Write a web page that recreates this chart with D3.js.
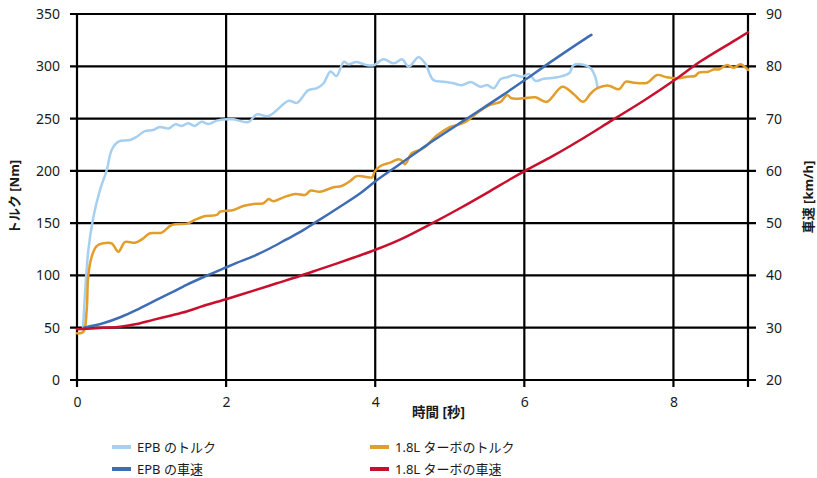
<!DOCTYPE html>
<html>
<head>
<meta charset="utf-8">
<script src="https://cdn.jsdelivr.net/npm/d3@7"></script>
<style>
  body { margin: 0; background: #fff; }
  svg text { font-family: "Noto Sans", "Noto Sans CJK JP", sans-serif; fill: #1a1a1a; }
</style>
</head>
<body>
<div id="chart"></div>
<script>
// Time [s] / value pairs
const epbTorqueT = [0.08, 0.152, 0.22, 0.31, 0.40, 0.465, 0.555, 0.71, 0.80, 0.91, 1.02, 1.11, 1.23, 1.32, 1.405, 1.49, 1.58, 1.67, 1.76, 1.875, 2.01, 2.10, 2.30, 2.41, 2.57, 2.84, 2.95, 3.10, 3.22, 3.31, 3.40, 3.48, 3.58, 3.64, 3.75, 3.89, 3.98, 4.11, 4.25, 4.36, 4.45, 4.58, 4.67, 4.78, 4.92, 5.05, 5.16, 5.28, 5.41, 5.50, 5.59, 5.68, 5.77, 5.86, 5.97, 6.06, 6.15, 6.26, 6.44, 6.60, 6.66, 6.75, 6.89, 6.95, 6.98];
const epbTorqueV = [48, 124, 156, 182, 201, 220, 228, 229.5, 232.6, 238, 239, 242, 240.6, 244.5, 243, 245.5, 243, 247, 244.8, 248, 249.3, 249.3, 246.7, 254, 252.5, 267, 265, 277, 279, 284, 295, 290.7, 304.4, 302, 304, 301, 301, 306.7, 302.8, 306.7, 299.6, 308.6, 302.8, 286.9, 285.3, 283.7, 281.8, 285, 280.5, 282, 279, 287.6, 289.5, 291.7, 290, 292.6, 286, 288, 289.5, 293.3, 301, 302, 298, 290, 280.5];

const turboTorqueT = [0, 0.085, 0.13, 0.15, 0.197, 0.264, 0.35, 0.465, 0.555, 0.645, 0.78, 0.87, 0.98, 1.137, 1.27, 1.49, 1.58, 1.72, 1.875, 1.92, 2.10, 2.23, 2.37, 2.50, 2.57, 2.63, 2.77, 2.93, 3.06, 3.13, 3.26, 3.44, 3.55, 3.66, 3.75, 3.86, 3.96, 3.99, 4.07, 4.20, 4.31, 4.36, 4.40, 4.49, 4.60, 4.67, 4.83, 5.00, 5.19, 5.37, 5.54, 5.68, 5.77, 5.83, 5.99, 6.15, 6.30, 6.51, 6.66, 6.79, 6.89, 6.98, 7.13, 7.27, 7.36, 7.47, 7.65, 7.78, 7.91, 8.05, 8.18, 8.29, 8.34, 8.47, 8.54, 8.61, 8.72, 8.81, 8.90, 9.0];
const turboTorqueV = [44.6, 46, 67, 98.8, 118, 128, 130.7, 130.7, 122.7, 132, 131.3, 134.5, 140.3, 140.9, 148.2, 149.8, 153, 156.8, 157.8, 161, 162.6, 166.4, 168.3, 169, 173, 171, 174.7, 177.9, 177, 181, 180, 184.3, 185.5, 190, 195, 194.4, 193.8, 199, 204.6, 207.8, 211, 209.7, 206.3, 216.8, 220, 223, 234, 241.7, 246, 255.6, 263, 266, 272.5, 269.4, 269.4, 270.3, 266, 280.5, 273.5, 266, 274, 279, 281.5, 278, 285.3, 284.3, 284.3, 291.7, 289.5, 288.5, 290, 290.7, 293.9, 294.8, 297, 297, 301.2, 298.6, 302, 296.5];

const epbSpeedT = [0.094, 0.35, 0.58, 0.80, 1.02, 1.25, 1.47, 1.70, 1.96, 2.14, 2.37, 2.59, 2.81, 3.04, 3.17, 3.49, 3.80, 4.02, 4.29, 4.60, 4.78, 5.23, 5.68, 6.04, 6.35, 6.82, 6.90];
const epbSpeedV = [30.0, 30.84, 32.0, 33.4, 35.0, 36.6, 38.2, 39.7, 41.3, 42.4, 43.7, 45.2, 46.9, 48.7, 49.9, 52.8, 55.7, 58.2, 60.9, 64.0, 65.8, 70.0, 74.2, 77.7, 80.8, 85.3, 86.0];

const turboSpeedT = [0, 0.35, 0.58, 0.80, 1.02, 1.25, 1.47, 1.70, 2.01, 2.37, 2.68, 2.99, 3.26, 3.49, 3.75, 4.02, 4.34, 4.78, 5.13, 5.50, 5.81, 6.01, 6.39, 6.75, 7.18, 7.60, 8.05, 8.36, 8.83, 9.0];
const turboSpeedV = [29.7, 30.0, 30.2, 30.7, 31.5, 32.3, 33.1, 34.2, 35.5, 37.1, 38.5, 39.9, 41.2, 42.3, 43.6, 45.0, 46.9, 50.1, 52.8, 55.8, 58.4, 60.0, 62.9, 65.9, 69.7, 73.4, 77.7, 80.9, 85.0, 86.5];

const xTicks = [0, 2, 4, 6, 8];
const torqueTicks = [0, 50, 100, 150, 200, 250, 300, 350];
const speedTicks = [20, 30, 40, 50, 60, 70, 80, 90];

const seriesNames = ["EPB のトルク", "EPB の車速", "1.8L ターボのトルク", "1.8L ターボの車速"];
const colors = ["#a6cff0", "#3f6db3", "#e29d2b", "#c8102e"];

const W = 817, H = 478;
const margin = { top: 14, right: 69, bottom: 98, left: 77 };
const x0 = margin.left, x1 = W - margin.right, y0 = H - margin.bottom, y1 = margin.top;

const svg = d3.select("#chart").append("svg")
    .attr("width", W)
    .attr("height", H);

const x = d3.scaleLinear().domain([0, 9]).range([x0, x1]);
const yT = d3.scaleLinear().domain([0, 350]).range([y0, y1]);
const yS = d3.scaleLinear().domain([20, 90]).range([y0, y1]);

// Grid (black, extending past axes as tick marks)
const grid = svg.append("g").attr("stroke", "#000").attr("stroke-width", 2.2);
torqueTicks.forEach(t => {
    grid.append("line")
        .attr("x1", x0 - 7).attr("x2", x1 + 8)
        .attr("y1", yT(t)).attr("y2", yT(t));
});
xTicks.concat([9]).forEach(t => {
    grid.append("line")
        .attr("x1", x(t)).attr("x2", x(t))
        .attr("y1", y1).attr("y2", y0 + 7);
});

// Left axis labels
svg.append("g")
    .attr("transform", `translate(${x0},0)`)
    .call(d3.axisLeft(yT).tickValues(torqueTicks).tickSize(0).tickPadding(17))
    .call(g => g.select(".domain").remove())
    .selectAll("text")
    .style("font-size", "14px");

// Right axis labels
svg.append("g")
    .attr("transform", `translate(${x1},0)`)
    .call(d3.axisRight(yS).tickValues(speedTicks).tickSize(0).tickPadding(18))
    .call(g => g.select(".domain").remove())
    .selectAll("text")
    .style("font-size", "14px");

// Bottom axis labels
svg.append("g")
    .attr("transform", `translate(0,${y0})`)
    .call(d3.axisBottom(x).tickValues(xTicks).tickSize(0).tickPadding(17))
    .call(g => g.select(".domain").remove())
    .selectAll("text")
    .style("font-size", "14px");

// Axis titles
svg.append("text")
    .attr("x", (x0 + x1) / 2 + 26)
    .attr("y", 417)
    .attr("text-anchor", "middle")
    .style("font-size", "13.5px")
    .style("font-weight", "700")
    .text("時間 [秒]");

svg.append("text")
    .attr("transform", `translate(19,${(y0 + y1) / 2}) rotate(-90)`)
    .attr("text-anchor", "middle")
    .style("font-size", "13px")
    .style("font-weight", "700")
    .text("トルク [Nm]");

svg.append("text")
    .attr("transform", `translate(813,${(y0 + y1) / 2}) rotate(-90)`)
    .attr("text-anchor", "middle")
    .style("font-size", "13px")
    .style("font-weight", "700")
    .text("車速 [km/h]");

// Lines
const lineT = d3.line().x(d => x(d[0])).y(d => yT(d[1])).curve(d3.curveCatmullRom.alpha(0.5));
const lineS = d3.line().x(d => x(d[0])).y(d => yS(d[1])).curve(d3.curveCatmullRom.alpha(0.5));

const series = [
    { data: d3.zip(epbTorqueT, epbTorqueV), line: lineT, color: colors[0] },
    { data: d3.zip(turboTorqueT, turboTorqueV), line: lineT, color: colors[2] },
    { data: d3.zip(epbSpeedT, epbSpeedV), line: lineS, color: colors[1] },
    { data: d3.zip(turboSpeedT, turboSpeedV), line: lineS, color: colors[3] }
];

series.forEach(s => {
    svg.append("path")
        .datum(s.data)
        .attr("fill", "none")
        .attr("stroke", s.color)
        .attr("stroke-width", 2.5)
        .attr("stroke-linejoin", "round")
        .attr("stroke-linecap", "round")
        .attr("d", s.line);
});

// Legend
const legendPos = [[112, 447], [112, 469], [370, 447], [370, 469]];
seriesNames.forEach((name, i) => {
    const g = svg.append("g").attr("transform", `translate(${legendPos[i][0]},${legendPos[i][1]})`);
    g.append("line")
        .attr("x1", 0).attr("x2", 19)
        .attr("stroke", colors[i])
        .attr("stroke-width", 4);
    g.append("text")
        .attr("x", 25)
        .attr("y", 5)
        .style("font-size", "13px")
        .text(name);
});
</script>
</body>
</html>
